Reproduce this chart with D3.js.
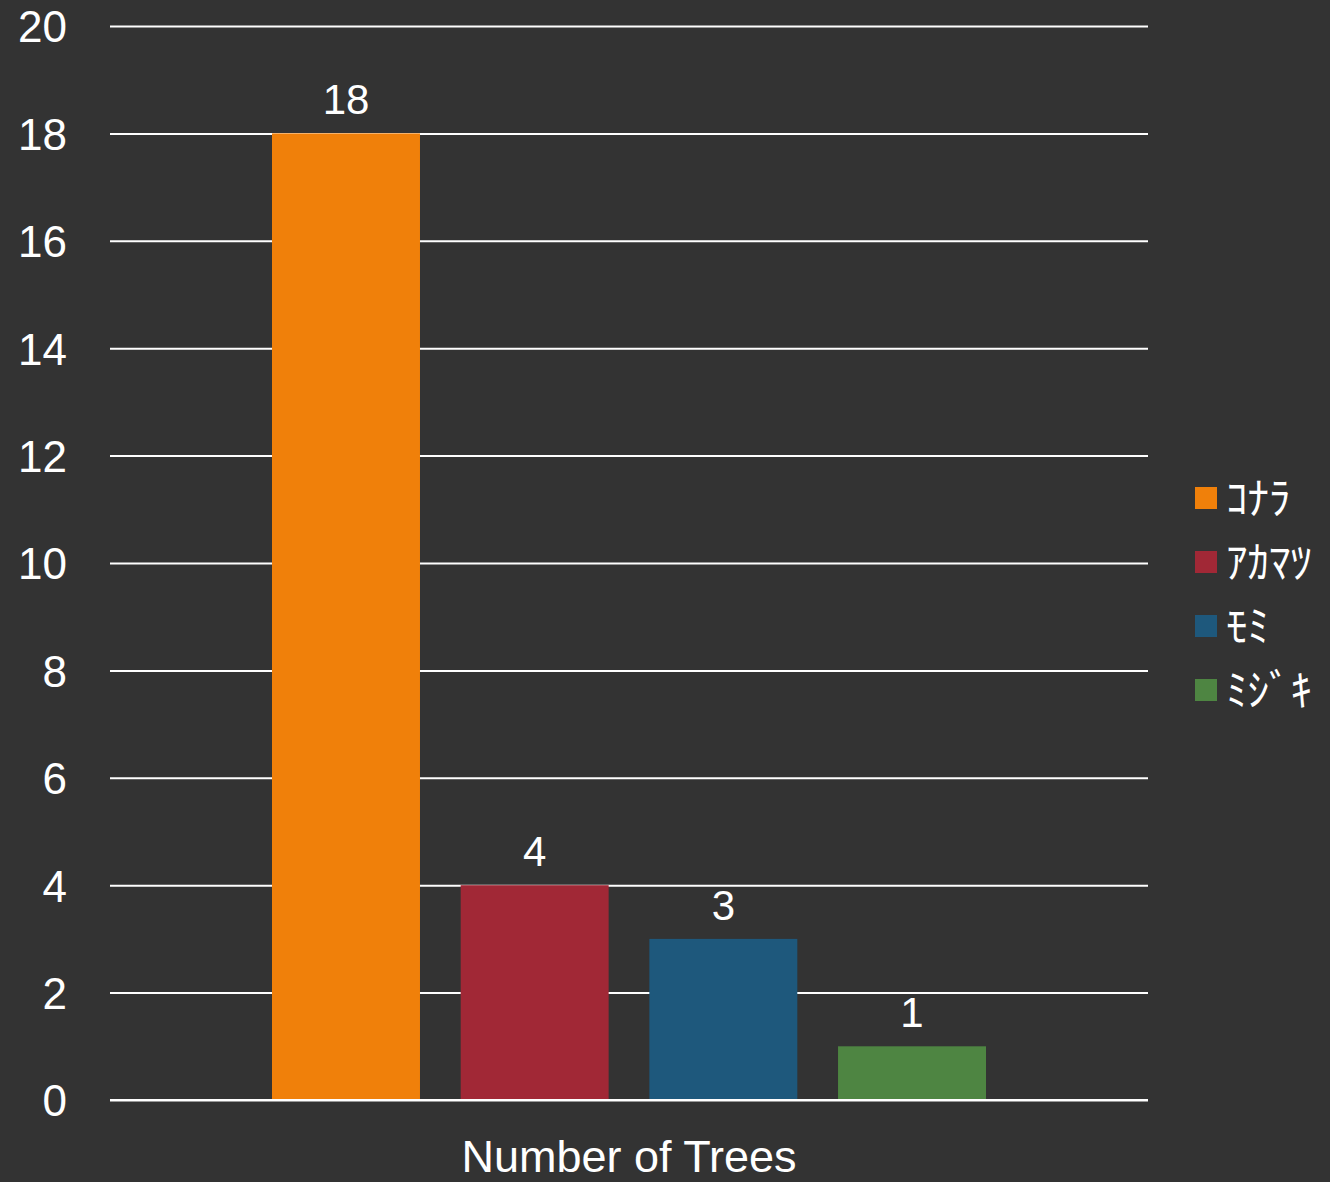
<!DOCTYPE html>
<html>
<head>
<meta charset="utf-8">
<script src="https://cdn.jsdelivr.net/npm/d3@7"></script>
<style>
  html, body { margin: 0; padding: 0; background: #333333; }
  svg { display: block; }
</style>
</head>
<body>
<svg id="chart" width="1330" height="1182"></svg>
<script>
// Tree counts by species
const groups = ["Number of Trees"];
const species = ["ｺﾅﾗ", "ｱｶﾏﾂ", "ﾓﾐ", "ﾐｼﾞｷ"];
const counts = [18, 4, 3, 1];
const colors = ["#F0800A", "#A12836", "#1E587C", "#4E8542"];
const yTicks = [0, 2, 4, 6, 8, 10, 12, 14, 16, 18, 20];

const svg = d3.select("#chart");
const plot = { left: 110, right: 1148, top: 26, bottom: 1100 };
const latin = "'Liberation Sans', Arial, sans-serif";

const y = d3.scaleLinear().domain([0, 20]).range([plot.bottom, plot.top]);
const x0 = d3.scaleBand().domain(groups).range([plot.left, plot.right])
  .paddingInner(0).paddingOuter(0.2269);
const x1 = d3.scaleBand().domain(species).range([0, x0.bandwidth()])
  .paddingInner(0.2157).paddingOuter(0);
const color = d3.scaleOrdinal().domain(species).range(colors);

// Gridlines and y tick labels
const yAxis = d3.axisLeft(y).tickValues(yTicks)
  .tickSize(-(plot.right - plot.left)).tickPadding(43);
const gy = svg.append("g")
  .attr("transform", `translate(${plot.left},0)`)
  .call(yAxis);
gy.select(".domain").remove();
gy.selectAll(".tick line").attr("stroke", "#ffffff").attr("stroke-width", 2);
gy.selectAll(".tick text")
  .attr("fill", "#ffffff")
  .attr("font-family", latin)
  .attr("font-size", 44)
  .attr("dy", "0.36em");

// Bars
const g = svg.append("g")
  .attr("transform", `translate(${x0(groups[0])},0)`);
const data = species.map((s, i) => ({ s, v: counts[i] }));

g.selectAll("rect.bar").data(data).join("rect")
  .attr("class", "bar")
  .attr("x", d => x1(d.s))
  .attr("y", d => y(d.v))
  .attr("width", x1.bandwidth())
  .attr("height", d => y(0) - y(d.v))
  .attr("fill", d => color(d.s));

// Value labels
g.selectAll("text.val").data(data).join("text")
  .attr("class", "val")
  .attr("x", d => x1(d.s) + x1.bandwidth() / 2)
  .attr("y", d => y(d.v) - 19)
  .attr("text-anchor", "middle")
  .attr("fill", "#ffffff")
  .attr("font-family", latin)
  .attr("font-size", 42)
  .text(d => d.v);

// Baseline
svg.append("line")
  .attr("x1", plot.left).attr("x2", plot.right)
  .attr("y1", y(0)).attr("y2", y(0))
  .attr("stroke", "#ffffff").attr("stroke-width", 2);

// Category label
svg.append("text")
  .attr("x", x0(groups[0]) + x0.bandwidth() / 2)
  .attr("y", 1172)
  .attr("text-anchor", "middle")
  .attr("fill", "#ffffff")
  .attr("font-family", latin)
  .attr("font-size", 45)
  .text(groups[0]);

// Legend
const legend = svg.append("g").attr("transform", "translate(1195,487)");
const items = legend.selectAll("g").data(species).join("g")
  .attr("transform", (d, i) => `translate(0,${i * 64})`);
items.append("rect")
  .attr("width", 22).attr("height", 22)
  .attr("fill", d => color(d));
items.append("text")
  .attr("x", 31)
  .attr("y", 11)
  .attr("dy", "0.38em")
  .attr("fill", "#ffffff")
  .attr("font-family", "'Noto Sans CJK JP', sans-serif")
  .attr("font-size", 43)
  .text(d => d);
</script>
</body>
</html>
